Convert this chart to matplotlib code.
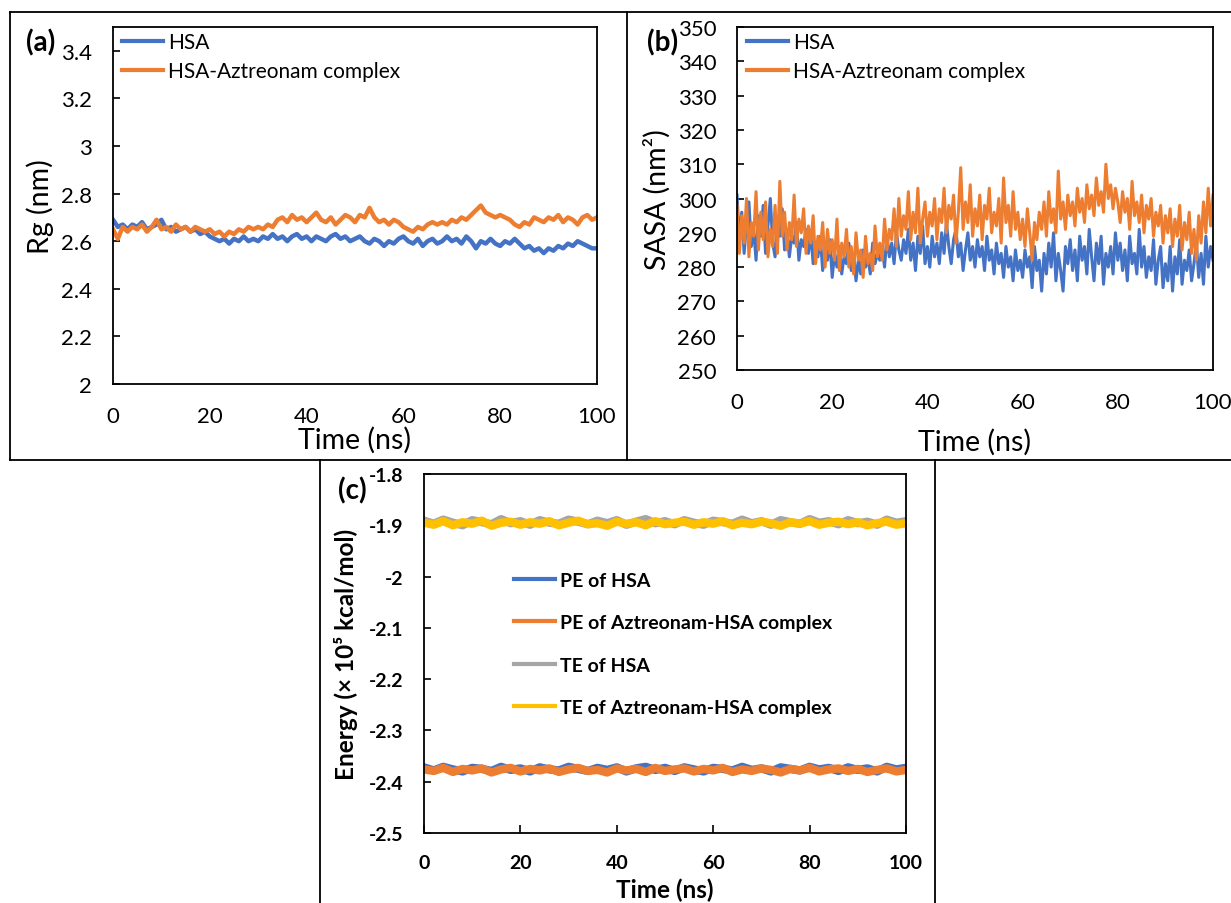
import matplotlib
matplotlib.use('Agg')
import matplotlib.pyplot as plt
from matplotlib.lines import Line2D
from matplotlib.ticker import FuncFormatter, MultipleLocator
import numpy as np

plt.rcParams['font.family'] = ['Lato', 'DejaVu Sans']
plt.rcParams['axes.unicode_minus'] = False

W, H = 1231, 904
BLUE = '#4472C4'
ORANGE = '#ED7D31'
GRAY = '#A5A5A5'
YELLOW = '#FFC000'

# Radius of gyration (nm), one value per ns
rg_hsa = [2.69, 2.66, 2.67, 2.65, 2.67, 2.66, 2.68, 2.65, 2.66, 2.67,
          2.69, 2.65, 2.66, 2.64, 2.65, 2.66, 2.64, 2.65, 2.63, 2.64,
          2.62, 2.61, 2.60, 2.61, 2.59, 2.61, 2.60, 2.62, 2.60, 2.61,
          2.60, 2.62, 2.61, 2.63, 2.61, 2.62, 2.60, 2.62, 2.63, 2.61,
          2.62, 2.60, 2.62, 2.61, 2.60, 2.62, 2.63, 2.61, 2.62, 2.60,
          2.61, 2.62, 2.60, 2.59, 2.61, 2.60, 2.58, 2.60, 2.59, 2.61,
          2.62, 2.60, 2.59, 2.61, 2.58, 2.60, 2.61, 2.59, 2.60, 2.62,
          2.60, 2.61, 2.59, 2.62, 2.60, 2.57, 2.60, 2.59, 2.61, 2.59,
          2.58, 2.60, 2.59, 2.61, 2.59, 2.57, 2.58, 2.56, 2.57, 2.55,
          2.57, 2.56, 2.58, 2.57, 2.59, 2.58, 2.60, 2.59, 2.58, 2.57, 2.57]
rg_cpx = [2.65, 2.61, 2.66, 2.64, 2.66, 2.65, 2.67, 2.64, 2.66, 2.69,
          2.65, 2.66, 2.64, 2.67, 2.65, 2.66, 2.64, 2.66, 2.65, 2.64,
          2.65, 2.63, 2.64, 2.62, 2.64, 2.63, 2.65, 2.64, 2.66, 2.65,
          2.66, 2.65, 2.67, 2.66, 2.69, 2.70, 2.68, 2.71, 2.69, 2.70,
          2.68, 2.70, 2.72, 2.69, 2.68, 2.70, 2.67, 2.69, 2.71, 2.70,
          2.68, 2.71, 2.70, 2.74, 2.70, 2.68, 2.69, 2.67, 2.69, 2.68,
          2.66, 2.65, 2.64, 2.66, 2.65, 2.67, 2.68, 2.67, 2.68, 2.67,
          2.69, 2.68, 2.70, 2.69, 2.71, 2.73, 2.75, 2.72, 2.71, 2.70,
          2.71, 2.70, 2.69, 2.67, 2.66, 2.68, 2.67, 2.70, 2.69, 2.68,
          2.70, 2.69, 2.71, 2.68, 2.70, 2.69, 2.67, 2.70, 2.71, 2.69, 2.70]

# SASA (nm^2), every 0.5 ns
sasa_hsa = [301, 288, 296, 284, 293, 299, 286, 291, 282, 295, 289, 298, 284, 292, 300, 287, 283, 294, 289, 297,
            285, 291, 283, 289, 287, 293, 282, 288, 286, 291, 284, 290, 281, 287, 283, 289, 279, 285, 282, 288,
            277, 284, 280, 286, 278, 283, 281, 287, 279, 284, 276, 282, 278, 285, 280, 283, 278, 287, 281, 284,
            282, 286, 280, 289, 283, 287, 281, 290, 285, 282, 288, 284, 291, 282, 287, 279, 289, 284, 292, 281,
            286, 280, 289, 283, 287, 281, 290, 284, 293, 286, 281, 288, 291, 283, 287, 279, 285, 290, 282, 286,
            280, 288, 283, 286, 279, 289, 282, 285, 278, 287, 281, 284, 277, 286, 280, 283, 276, 285, 279, 282,
            277, 285, 280, 283, 274, 286, 279, 282, 273, 284, 278, 287, 280, 290, 276, 284, 279, 273, 286, 281,
            288, 279, 285, 276, 289, 282, 286, 278, 291, 283, 276, 287, 281, 289, 275, 284, 280, 286, 278, 290,
            282, 287, 279, 285, 276, 289, 281, 284, 278, 291, 280, 286, 277, 283, 279, 288, 275, 282, 286, 274,
            281, 276, 286, 273, 283, 278, 288, 275, 282, 279, 285, 276, 281, 287, 277, 284, 275, 289, 280, 286, 282]
sasa_cpx = [298, 284, 295, 287, 300, 283, 293, 289, 302, 285, 296, 288, 299, 283, 291, 286, 298, 284, 305, 289,
            296, 285, 293, 288, 301, 286, 294, 290, 297, 284, 292, 287, 295, 281, 289, 285, 293, 280, 291, 284,
            288, 282, 294, 279, 287, 283, 291, 280, 286, 278, 290, 282, 285, 277, 289, 281, 284, 279, 292, 283,
            287, 282, 294, 285, 291, 288, 297, 286, 300, 289, 295, 291, 302, 288, 296, 290, 303, 287, 294, 299,
            289, 296, 292, 300, 288, 297, 293, 303, 290, 298, 294, 301, 287, 296, 309, 291, 299, 293, 304, 289,
            297, 292, 301, 288, 298, 294, 303, 290, 296, 292, 300, 287, 306, 293, 298, 289, 302, 291, 296, 288,
            294, 286, 297, 290, 282, 293, 288, 296, 291, 299, 289, 302, 293, 297, 290, 308, 294, 299, 291, 301,
            295, 299, 292, 303, 296, 300, 293, 304, 297, 301, 295, 306, 298, 302, 296, 310, 300, 304, 297, 303,
            299, 293, 302, 296, 300, 291, 305, 295, 299, 293, 301, 290, 298, 294, 300, 289, 296, 292, 298, 287,
            295, 290, 297, 286, 294, 289, 298, 285, 293, 288, 296, 284, 291, 282, 295, 287, 299, 290, 303, 292, 301]

# Energies (x 10^5 kcal/mol), every 2 ns
pe_hsa = [-2.372, -2.378, -2.371, -2.376, -2.380, -2.373, -2.375, -2.379, -2.371, -2.377,
          -2.374, -2.380, -2.372, -2.376, -2.378, -2.371, -2.375, -2.379, -2.373, -2.377,
          -2.372, -2.380, -2.374, -2.371, -2.377, -2.373, -2.379, -2.372, -2.376, -2.380,
          -2.373, -2.375, -2.378, -2.371, -2.377, -2.374, -2.380, -2.372, -2.375, -2.378,
          -2.371, -2.376, -2.373, -2.379, -2.372, -2.377, -2.374, -2.380, -2.371, -2.376, -2.373]
pe_cpx = [-2.376, -2.379, -2.373, -2.381, -2.375, -2.378, -2.374, -2.382, -2.376, -2.373,
          -2.380, -2.375, -2.378, -2.374, -2.381, -2.376, -2.373, -2.379, -2.377, -2.382,
          -2.374, -2.378, -2.375, -2.381, -2.373, -2.379, -2.376, -2.374, -2.380, -2.375,
          -2.378, -2.373, -2.381, -2.376, -2.379, -2.374, -2.377, -2.382, -2.375, -2.378,
          -2.373, -2.380, -2.376, -2.374, -2.379, -2.375, -2.381, -2.377, -2.374, -2.380, -2.377]
te_hsa = [-1.891, -1.897, -1.889, -1.895, -1.900, -1.890, -1.894, -1.898, -1.888, -1.896,
          -1.892, -1.899, -1.890, -1.895, -1.897, -1.889, -1.893, -1.898, -1.891, -1.896,
          -1.890, -1.899, -1.893, -1.888, -1.896, -1.892, -1.898, -1.890, -1.895, -1.899,
          -1.891, -1.894, -1.897, -1.889, -1.896, -1.892, -1.899, -1.890, -1.894, -1.897,
          -1.888, -1.895, -1.892, -1.898, -1.890, -1.896, -1.893, -1.899, -1.889, -1.895, -1.892]
te_cpx = [-1.895, -1.899, -1.892, -1.900, -1.894, -1.897, -1.891, -1.901, -1.895, -1.893,
          -1.899, -1.894, -1.897, -1.892, -1.900, -1.895, -1.891, -1.898, -1.896, -1.901,
          -1.893, -1.897, -1.894, -1.900, -1.892, -1.898, -1.895, -1.893, -1.899, -1.894,
          -1.897, -1.892, -1.900, -1.895, -1.898, -1.893, -1.896, -1.901, -1.894, -1.897,
          -1.892, -1.899, -1.895, -1.893, -1.898, -1.894, -1.900, -1.896, -1.893, -1.899, -1.896]


def px(x0, y0, x1, y1):
    # pixel box -> figure fraction [left, bottom, width, height]
    return [x0 / W, 1 - y1 / H, (x1 - x0) / W, (y1 - y0) / H]


def fig_line(fig, xs, ys):
    fig.add_artist(Line2D([x / W for x in xs], [1 - y / H for y in ys],
                          transform=fig.transFigure, color='k', lw=1.3))


def style(ax, size, bold=False, xticks=False):
    wt = 'bold' if bold else 'normal'
    for s in ax.spines.values():
        s.set_linewidth(1.3)
    ax.tick_params(axis='y', direction='in', length=5, width=1.2, pad=15, labelsize=size)
    if xticks:
        ax.tick_params(axis='x', direction='in', length=6, width=1.2, pad=15, labelsize=size)
    else:
        ax.tick_params(axis='x', length=0, pad=16, labelsize=size)
    ax.xaxis.set_major_locator(MultipleLocator(20))
    ax.yaxis.set_major_formatter(FuncFormatter(lambda v, p: '{:g}'.format(round(v, 4))))
    for lab in ax.get_xticklabels() + ax.get_yticklabels():
        lab.set_fontweight(wt)


fig = plt.figure(figsize=(W / 100, H / 100), dpi=100)

# panel frames
fig_line(fig, [10, W], [13, 13])
fig_line(fig, [10, 10], [13, 461])
fig_line(fig, [10, W], [461, 461])
fig_line(fig, [627, 627], [13, 461])
fig_line(fig, [320, 320], [461, H])
fig_line(fig, [935, 935], [461, H])

##### (a) Rg #####
a = fig.add_axes(px(113, 28, 597, 385))
t = np.linspace(0, 100, len(rg_hsa))
a.plot(t, rg_hsa, color=BLUE, lw=3.2, label='HSA')
a.plot(t, rg_cpx, color=ORANGE, lw=3.2, label='HSA-Aztreonam complex')
a.set_xlim(0, 100)
a.set_ylim(2, 3.5)
a.set_yticks(np.arange(2, 3.41, 0.2))
style(a, 16)
a.set_xlabel('Time (ns)', fontsize=20.5, va='center')
a.xaxis.set_label_coords(0.5, -0.154)
a.set_ylabel('Rg (nm)', fontsize=20.5, va='center')
a.yaxis.set_label_coords(-0.151, 0.5)
leg = a.legend(loc='upper left', bbox_to_anchor=(0.019, 0.985), frameon=False, fontsize=15,
               handlelength=1.95, handletextpad=0.25, labelspacing=0.42, borderpad=0, borderaxespad=0)
for ln in leg.get_lines():
    ln.set_linewidth(3)
fig.text(41 / W, 1 - 43 / H, '(a)', fontsize=20, fontweight='bold', ha='center', va='center')

##### (b) SASA #####
b = fig.add_axes(px(737, 28, 1213, 371))
t = np.linspace(0, 100, len(sasa_hsa))
b.plot(t, sasa_hsa, color=BLUE, lw=2.2, label='HSA')
b.plot(t, sasa_cpx, color=ORANGE, lw=2.2, label='HSA-Aztreonam complex')
b.set_xlim(0, 100)
b.set_ylim(250, 350)
b.yaxis.set_major_locator(MultipleLocator(10))
style(b, 16)
b.set_xlabel('Time (ns)', fontsize=20.5, va='center')
b.xaxis.set_label_coords(0.5, -0.207)
b.set_ylabel('SASA (nm²)', fontsize=20.5, va='center')
b.yaxis.set_label_coords(-0.168, 0.5)
leg = b.legend(loc='upper left', bbox_to_anchor=(0.021, 0.985), frameon=False, fontsize=15,
               handlelength=1.95, handletextpad=0.25, labelspacing=0.42, borderpad=0, borderaxespad=0)
for ln in leg.get_lines():
    ln.set_linewidth(3)
fig.text(663 / W, 1 - 43 / H, '(b)', fontsize=20, fontweight='bold', ha='center', va='center')

##### (c) Energy #####
c = fig.add_axes(px(424, 475, 906, 834))
t = np.linspace(0, 100, len(pe_hsa))
c.plot(t, pe_hsa, color=BLUE, lw=6, label='PE of HSA')
c.plot(t, pe_cpx, color=ORANGE, lw=6, label='PE of Aztreonam-HSA complex')
c.plot(t, te_hsa, color=GRAY, lw=6, label='TE of HSA')
c.plot(t, te_cpx, color=YELLOW, lw=6, label='TE of Aztreonam-HSA complex')
c.set_xlim(0, 100)
c.set_ylim(-2.5, -1.8)
c.yaxis.set_major_locator(MultipleLocator(0.1))
style(c, 14, bold=True, xticks=True)
c.set_xlabel('Time (ns)', fontsize=17.5, fontweight='bold', va='center')
c.xaxis.set_label_coords(0.5, -0.156)
c.set_ylabel('Energy (× 10⁵ kcal/mol)', fontsize=17.5, fontweight='bold', va='center')
c.yaxis.set_label_coords(-0.162, 0.5)
leg = c.legend(loc='upper left', bbox_to_anchor=(0.187, 0.727), frameon=False,
               prop={'size': 14, 'weight': 'bold'},
               handlelength=2.1, handletextpad=0.25, labelspacing=1.3, borderpad=0, borderaxespad=0)
for ln in leg.get_lines():
    ln.set_linewidth(3)
fig.text(352 / W, 1 - 491 / H, '(c)', fontsize=20, fontweight='bold', ha='center', va='center')

fig.savefig('out.png', dpi=100)
